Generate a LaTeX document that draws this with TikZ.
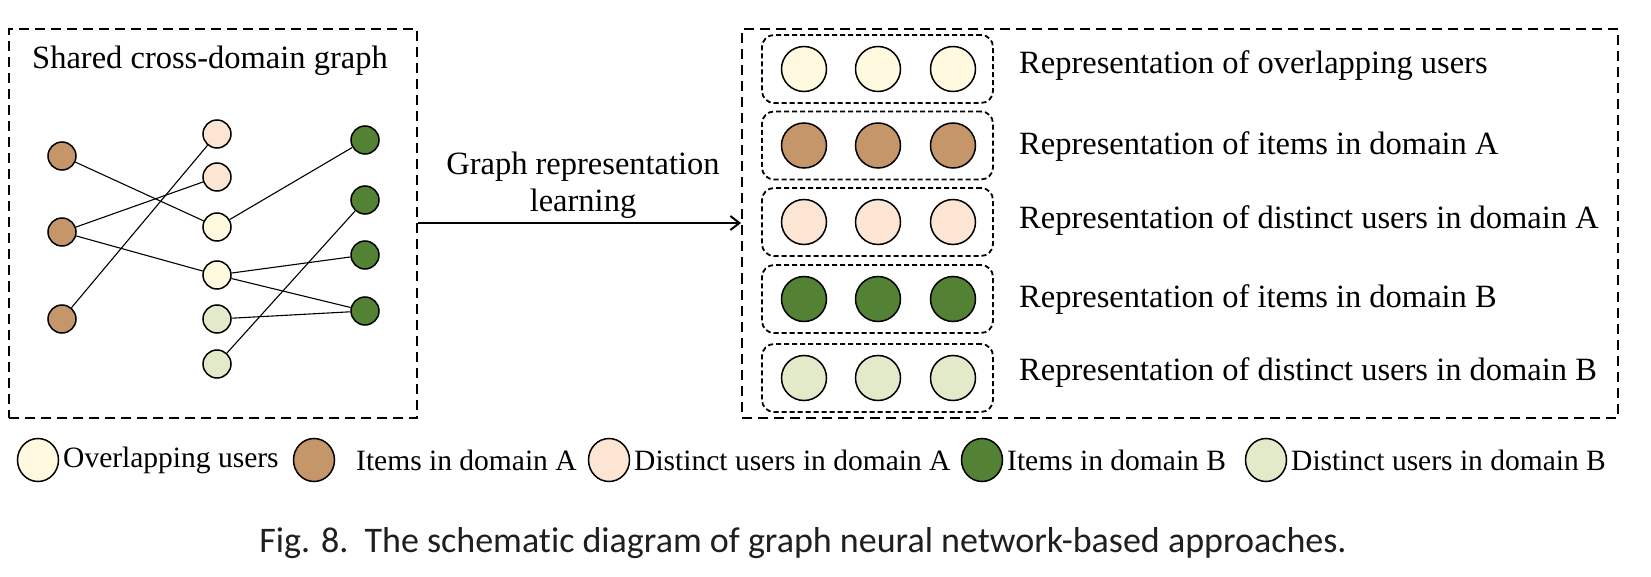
\documentclass[tikz,border=0pt]{standalone}
\usepackage{fontspec}
\setmainfont{Liberation Serif}
\newfontfamily\capfont[Ligatures={NoCommon}]{Carlito}
\usetikzlibrary{arrows.meta,shapes.geometric}
\definecolor{cOver}{HTML}{FFF9DF}
\definecolor{cItemA}{HTML}{C4966A}
\definecolor{cDistA}{HTML}{FDE5D4}
\definecolor{cItemB}{HTML}{548235}
\definecolor{cDistB}{HTML}{E3EACA}
\begin{document}
\begin{tikzpicture}[x=1pt,y=-1pt,
  outerbox/.style={draw, line width=2pt, dash pattern=on 10pt off 6pt},
  rowbox/.style={draw, line width=1.8pt, dash pattern=on 5pt off 3pt, rounded corners=12pt,
    minimum width=231pt, minimum height=68pt, inner sep=0pt},
  gnode/.style={circle, draw, line width=1.5pt, minimum size=28pt, inner sep=0pt},
  rnode/.style={circle, draw, line width=1.5pt, minimum size=45pt, inner sep=0pt},
  lnode/.style={ellipse, draw, line width=1.5pt, minimum width=41pt, minimum height=43pt, inner sep=0pt},
  gedge/.style={line width=1.1pt},
  bigtext/.style={font=\fontsize{32.5}{39}\selectfont, inner sep=0pt},
  legtext/.style={font=\fontsize{29.5}{35}\selectfont, inner sep=0pt, anchor=west},
  rowlabel/.style={font=\fontsize{32.5}{39}\selectfont, inner sep=0pt, anchor=base west},
]
\useasboundingbox[fill=white] (0,0) rectangle (1651,577);

% left box
\node[outerbox, minimum width=408pt, minimum height=388pt, inner sep=0pt] (lbox) at (213,223.5) {};
\node[bigtext] (title) at (210,61) {Shared cross-domain graph};

% graph nodes
\node[gnode, fill=cItemA] (a1) at (62,156) {};
\node[gnode, fill=cItemA] (a2) at (62,232) {};
\node[gnode, fill=cItemA] (a3) at (62,319) {};
\node[gnode, fill=cDistA] (m1) at (217,134) {};
\node[gnode, fill=cDistA] (m2) at (217,177) {};
\node[gnode, fill=cOver] (m3) at (217,227) {};
\node[gnode, fill=cOver] (m4) at (217,275) {};
\node[gnode, fill=cDistB] (m5) at (217,319) {};
\node[gnode, fill=cDistB] (m6) at (217,364) {};
\node[gnode, fill=cItemB] (b1) at (365,140) {};
\node[gnode, fill=cItemB] (b2) at (365,200) {};
\node[gnode, fill=cItemB] (b3) at (365,255) {};
\node[gnode, fill=cItemB] (b4) at (365,311) {};

\draw[gedge] (a1) -- (m3);
\draw[gedge] (a2) -- (m2);
\draw[gedge] (a2) -- (m4);
\draw[gedge] (a3) -- (m1);
\draw[gedge] (m3) -- (b1);
\draw[gedge] (m4) -- (b3);
\draw[gedge] (m4) -- (b4);
\draw[gedge] (m5) -- (b4);
\draw[gedge] (m6) -- (b2);

% right box
\node[outerbox, minimum width=876pt, minimum height=388pt, inner sep=0pt] (rbox) at (1180,223.5) {};

% arrow
\draw[line width=2pt, -{Straight Barb[length=9pt,width=14pt]}] (lbox.east |- 0,223) -- (rbox.west |- 0,223);
\node[bigtext, align=center] (arrlab) at (583,185) {Graph representation\\[-2pt]learning};

% rows
\foreach \i/\cy/\ty/\col/\txt in {
  1/69/74/cOver/Representation of overlapping users,
  2/145.5/154.5/cItemA/Representation of items in domain A,
  3/222/229/cDistA/Representation of distinct users in domain A,
  4/299/307/cItemB/Representation of items in domain B,
  5/378/380/cDistB/Representation of distinct users in domain B}{
  \node[rowbox] (row\i) at (877.5,\cy) {};
  \node[rnode, fill=\col] (row\i a) at (804,\cy) {};
  \node[rnode, fill=\col] (row\i b) at (878,\cy) {};
  \node[rnode, fill=\col] (row\i c) at (953,\cy) {};
  \node[rowlabel] (lab\i) at (1019,\ty) {\txt};
}

% legend
\node[lnode, fill=cOver] (l1) at (38,460) {};
\node[legtext] (lt1) at (63,460) {Overlapping users};
\node[lnode, fill=cItemA] (l2) at (314,460) {};
\node[legtext] (lt2) at (356,460) {Items in domain A};
\node[lnode, fill=cDistA] (l3) at (609,460) {};
\node[legtext] (lt3) at (634,460) {Distinct users in domain A};
\node[lnode, fill=cItemB] (l4) at (982,460) {};
\node[legtext] (lt4) at (1007,460) {Items in domain B};
\node[lnode, fill=cDistB] (l5) at (1266,460) {};
\node[legtext] (lt5) at (1291,460) {Distinct users in domain B};

% caption
\node[font=\capfont\fontsize{36}{43}\selectfont, text=black!88, inner sep=0pt] (cap) at (803,543)
  {Fig. 8.\ \ The schematic diagram of graph neural network-based approaches.};
\end{tikzpicture}
\end{document}
